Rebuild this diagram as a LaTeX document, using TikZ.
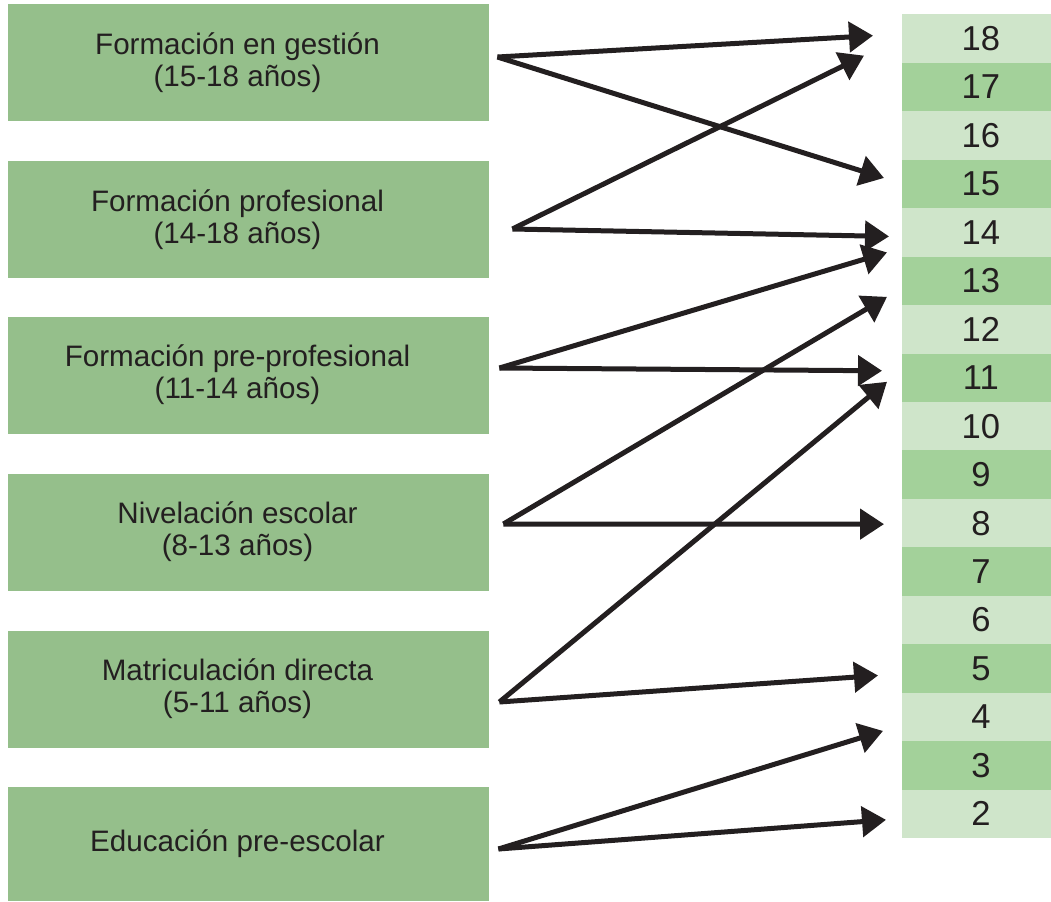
\documentclass[tikz,border=0pt]{standalone}
\usepackage{fontspec}
\setmainfont{Liberation Sans}
\usetikzlibrary{arrows.meta,calc}

\definecolor{boxgreen}{RGB}{149,191,139}
\definecolor{rowdark}{RGB}{163,209,154}
\definecolor{rowlight}{RGB}{207,229,202}
\definecolor{ink}{RGB}{35,31,32}

% texto algo corrido a la izquierda dentro de la caja
\newcommand{\boxline}[1]{\hspace*{-11pt}#1}

\tikzset{
  agebox/.style={fill=boxgreen, inner sep=0pt, minimum width=240.5pt,
    minimum height=58.5pt, align=center, text=ink,
    font=\fontsize{14.8}{16}\selectfont},
  rowbox/.style={inner sep=0pt, minimum width=78.5pt, minimum height=24.225pt,
    anchor=north west, text=ink, font=\fontsize{17.3}{17}\selectfont},
  arr/.style={draw=ink, line width=2.5pt,
    -{Triangle[length=12pt,width=15pt]}}
}

\begin{document}
\begin{tikzpicture}[x=0.5pt,y=-0.5pt]
  \useasboundingbox (0,0) rectangle (1051,901);

  % programas (izquierda)
  \node[agebox] (gestion) at (248.5,62.5)
    {\boxline{Formación en gestión}\\\boxline{(15-18 años)}};
  \node[agebox] (profesional) at (248.5,219.5)
    {\boxline{Formación profesional}\\\boxline{(14-18 años)}};
  \node[agebox] (preprof) at (248.5,375)
    {\boxline{Formación pre-profesional}\\\boxline{(11-14 años)}};
  \node[agebox] (nivelacion) at (248.5,532)
    {\boxline{Nivelación escolar}\\\boxline{(8-13 años)}};
  \node[agebox] (matricula) at (248.5,689)
    {\boxline{Matriculación directa}\\\boxline{(5-11 años)}};
  \node[agebox, minimum height=57pt] (preescolar) at (248.5,844)
    {\boxline{Educación pre-escolar}};

  % edades (derecha)
  \foreach \n in {18,17,...,2}{
    \pgfmathsetmacro\ytop{14+48.45*(18-\n)}
    \ifodd\n\relax \def\rowfill{rowdark}\else \def\rowfill{rowlight}\fi
    \node[rowbox, fill=\rowfill] (r\n) at (902,\ytop) {\n};
  }

  % puntos de salida
  \coordinate (s1) at ($(gestion.east)+(8,-5.5)$);
  \coordinate (s2) at ($(profesional.east)+(23,9.5)$);
  \coordinate (s3) at ($(preprof.east)+(10,-7)$);
  \coordinate (s4) at ($(nivelacion.east)+(14,-8)$);
  \coordinate (s5) at ($(matricula.east)+(10,13)$);
  \coordinate (s6) at ($(preescolar.east)+(9,5)$);

  \draw[arr] (s1) -- ($(r18.west)+(-29,-3)$);
  \draw[arr] (s1) -- ($(r15.west)+(-18,-6)$);
  \draw[arr] (s2) -- ($(r18.west)+(-38,17)$);
  \draw[arr] (s2) -- ($(r14.west)+(-13,4)$);
  \draw[arr] (s3) -- ($(r14.west)+(-15,20)$);
  \draw[arr] (s3) -- ($(r11.west)+(-20,-7)$);
  \draw[arr] (s4) -- ($(r13.west)+(-15,16)$);
  \draw[arr] (s4) -- ($(r8.west)+(-18,1)$);
  \draw[arr] (s5) -- ($(r11.west)+(-15,4)$);
  \draw[arr] (s5) -- ($(r5.west)+(-24,7)$);
  \draw[arr] (s6) -- ($(r4.west)+(-19,14)$);
  \draw[arr] (s6) -- ($(r2.west)+(-16,6)$);
\end{tikzpicture}
\end{document}
